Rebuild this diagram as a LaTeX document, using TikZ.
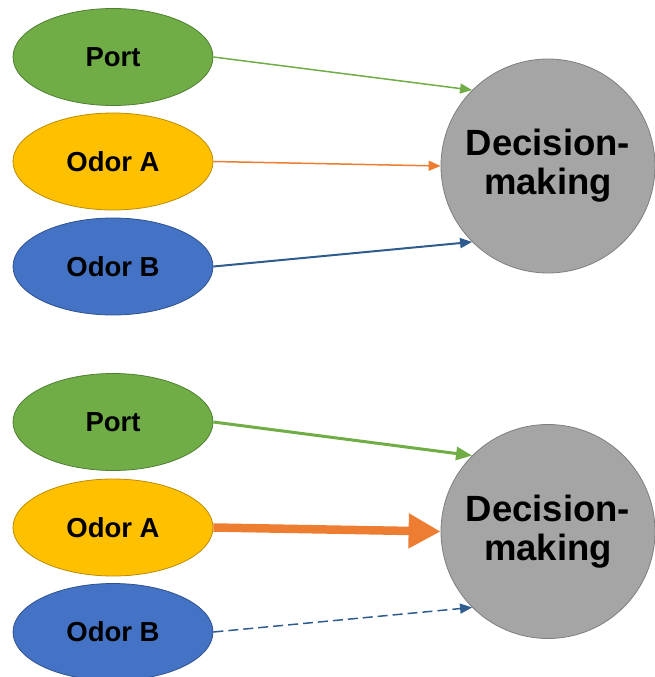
\documentclass[tikz,border=0pt]{standalone}
\usepackage{fontspec}
\setmainfont{Liberation Sans}
\usetikzlibrary{shapes.geometric,arrows.meta}
\definecolor{cgreen}{HTML}{70AD47}
\definecolor{cgreenD}{HTML}{507E32}
\definecolor{cyellow}{HTML}{FFC000}
\definecolor{cyellowD}{HTML}{BC8C00}
\definecolor{cblue}{HTML}{4472C4}
\definecolor{cblueD}{HTML}{2F528F}
\definecolor{cgray}{HTML}{A5A5A5}
\definecolor{cgrayD}{HTML}{7F7F7F}
\definecolor{corange}{HTML}{ED7D31}
\definecolor{carrowblue}{HTML}{2E5C8E}
\tikzset{
  oval/.style={ellipse, minimum width=200pt, minimum height=97pt, inner sep=0pt,
    line width=0.8pt, font=\fontsize{27.5}{31}\selectfont\bfseries},
  decision/.style={circle, minimum size=214pt, inner sep=0pt, fill=cgray, draw=cgrayD,
    line width=0.8pt, align=center, font=\fontsize{36.5}{39}\selectfont\bfseries},
  thinarrow/.style={line width=1.5pt, -{Triangle[length=12pt,width=10pt]}},
  midarrow/.style={line width=3pt, -{Triangle[length=16pt,width=13pt]}},
  fatarrow/.style={line width=8.5pt, -{Triangle[length=32pt,width=33pt]}},
}
\begin{document}
\begin{tikzpicture}[x=1pt,y=-1pt]
\useasboundingbox (0,0) rectangle (654,677);
% top group
\node[oval, fill=cgreen, draw=cgreenD] (p1) at (113,57) {Port};
\node[oval, fill=cyellow, draw=cyellowD] (a1) at (113,161.5) {Odor A};
\node[oval, fill=cblue, draw=cblueD] (b1) at (113,266.5) {Odor B};
\node[decision] (d1) at (548,166) {Decision-\\making};
\draw[thinarrow, cgreen] (p1.east) -- (d1.135);
\draw[thinarrow, corange] (a1.east) -- (d1.180);
\draw[thinarrow, carrowblue, line width=2pt] (b1.east) -- (d1.225);
% bottom group
\node[oval, fill=cgreen, draw=cgreenD] (p2) at (113,422) {Port};
\node[oval, fill=cyellow, draw=cyellowD] (a2) at (113,527.5) {Odor A};
\node[oval, fill=cblue, draw=cblueD] (b2) at (113,632) {Odor B};
\node[decision] (d2) at (548,531.5) {Decision-\\making};
\draw[midarrow, cgreen] (p2.east) -- (d2.135);
\draw[fatarrow, corange] (a2.east) -- (d2.180);
\draw[thinarrow, carrowblue, dash pattern=on 10pt off 5pt] (b2.east) -- (d2.225);
\end{tikzpicture}
\end{document}
